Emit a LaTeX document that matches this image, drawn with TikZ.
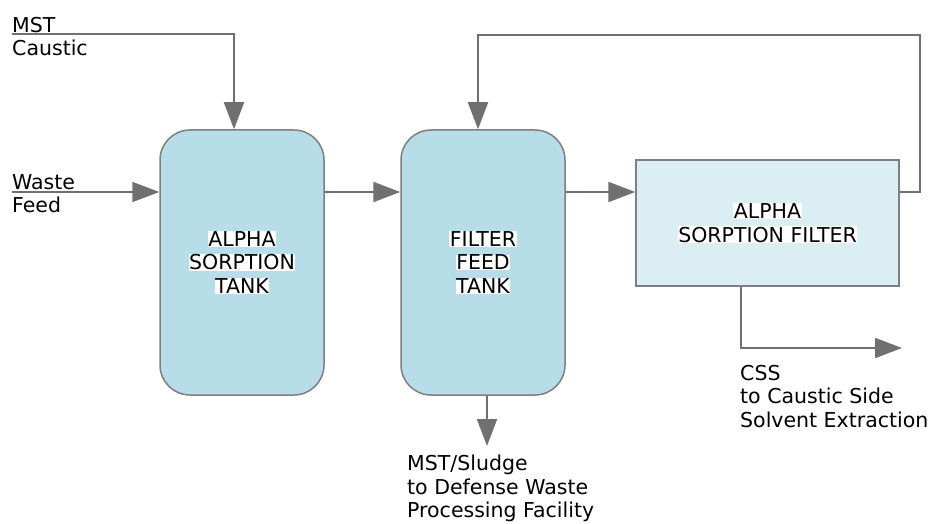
\documentclass[tikz,border=0pt]{standalone}
\usepackage{fontspec}
\setmainfont{DejaVu Sans}
\usetikzlibrary{arrows.meta}

\definecolor{tankblue}{HTML}{B7DDE8}
\definecolor{filterblue}{HTML}{DBEEF3}
\definecolor{edgegray}{HTML}{7F7F7F}
\definecolor{pipegray}{HTML}{707070}
\newcommand{\wb}[1]{{\setlength{\fboxsep}{0.5pt}\colorbox{white}{#1}}}

\tikzset{
  tank/.style={draw=edgegray, line width=1.5pt, fill=tankblue,
    rounded corners=30pt, minimum width=164pt, minimum height=265pt,
    align=center, font=\fontsize{20.5}{23.5}\selectfont},
  filterbox/.style={draw=edgegray, line width=1.5pt, fill=filterblue,
    minimum width=263pt, minimum height=126pt,
    align=center, font=\fontsize{20.5}{23.5}\selectfont},
  pipe/.style={draw=pipegray, line width=2pt,
    -{Triangle[length=27pt,width=20pt]}},
  stream/.style={align=left, inner sep=0pt,
    font=\fontsize{20.5}{23.5}\selectfont},
}

\begin{document}
\begin{tikzpicture}[x=1pt,y=-1pt]
\useasboundingbox (0,0) rectangle (932,524);

\path (242,262.5) node[tank] (t1) {\wb{ALPHA}\\\wb{SORPTION}\\\wb{TANK}}
      (483,262.5) node[tank] (t2) {\wb{FILTER}\\\wb{FEED}\\\wb{TANK}}
      (767.5,223) node[filterbox] (flt) {\wb{ALPHA}\\\wb{SORPTION FILTER}}
      (12,17) node[stream, anchor=north west] (mst) {MST\\Caustic}
      (12,174) node[stream, anchor=north west] (waste) {Waste\\Feed}
      (407,455) node[stream, anchor=north west] (sludge) {MST/Sludge\\to Defense Waste\\Processing Facility}
      (740,365) node[stream, anchor=north west] (css) {CSS\\to Caustic Side\\Solvent Extraction}
;

\coordinate (mstin) at (12,34);
\coordinate (mstbend) at (234,34);
\coordinate (wastein) at (12,192);
\coordinate (rcright) at (920,35);
\coordinate (rcleft) at (478,35);
\coordinate (sludgeout) at (487,446);
\coordinate (cssbend) at (741,348);
\coordinate (cssout) at (902,348);

\draw[pipe] (mstin) -- (mstbend) -- (mstbend |- t1.north);
\draw[pipe] (wastein) -- (wastein -| t1.west);
\draw[pipe] (wastein -| t1.east) -- (wastein -| t2.west);
\draw[pipe] (wastein -| t2.east) -- (wastein -| flt.west);
\draw[pipe] (wastein -| flt.east) -| (rcright) -- (rcleft) -- (rcleft |- t2.north);
\draw[pipe] (sludgeout |- t2.south) -- (sludgeout);
\draw[pipe] (cssbend |- flt.south) -- (cssbend) -- (cssout);

\end{tikzpicture}
\end{document}
